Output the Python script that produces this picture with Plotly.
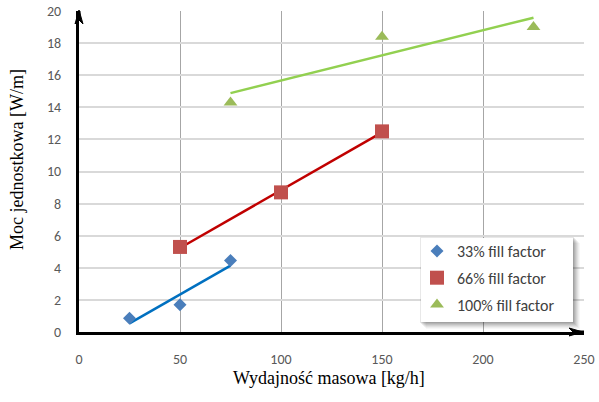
import numpy as np
import plotly.graph_objects as go

# Measured unit power vs. mass throughput for three fill factors
mass_flow_33 = [25, 50, 75]
power_33 = [0.85, 1.7, 4.45]

mass_flow_66 = [50, 100, 150]
power_66 = [5.3, 8.7, 12.5]

mass_flow_100 = [75, 150, 225]
power_100 = [14.3, 18.4, 19.0]

series_names = ["33% fill factor", "66% fill factor", "100% fill factor"]
x_ticks = [0, 50, 100, 150, 200, 250]
y_ticks = [0, 2, 4, 6, 8, 10, 12, 14, 16, 18, 20]
x_title = "Wydajność masowa [kg/h]"
y_title = "Moc jednostkowa [W/m]"

# Figure geometry (pixels)
W, H = 599, 402
ML, MR, MT, MB = 79, 15, 11, 70
PW, PH = W - ML - MR, H - MT - MB

marker_styles = [
    dict(symbol="diamond", color="#4a7ebb", size=10),
    dict(symbol="square", color="#c0504d", size=14),
    dict(symbol="triangle-up", color="#9bbb59", size=12),
]
trend_colors = ["#0070c0", "#c00000", "#92d050"]
datasets = [
    (mass_flow_33, power_33),
    (mass_flow_66, power_66),
    (mass_flow_100, power_100),
]

fig = go.Figure()

# Linear trend lines over each measured range
for (xs, ys), col in zip(datasets, trend_colors):
    k, b = np.polyfit(xs, ys, 1)
    xr = np.array([min(xs), max(xs)], dtype=float)
    fig.add_trace(go.Scatter(
        x=xr, y=k * xr + b, mode="lines",
        line=dict(color=col, width=2.5),
        showlegend=False, hoverinfo="skip",
    ))

# Measurement points
for i, ((xs, ys), ms, name) in enumerate(zip(datasets, marker_styles, series_names)):
    fig.add_trace(go.Scatter(
        x=xs, y=ys, mode="markers", name=name,
        legendgroup=f"g{i}",
        marker=dict(symbol=ms["symbol"], color=ms["color"], size=ms["size"],
                    line=dict(width=0)),
    ))

def px_to_paper_x(px):
    return (px - ML) / PW

def px_to_paper_y(py):
    return (H - MB - py) / PH

shapes = []

# Legend box with a soft drop shadow
box_l, box_t, box_r, box_b = 421, 238, 573, 322
for off, op in [(7, 0.03), (6, 0.04), (5, 0.05), (4, 0.06), (3, 0.07), (2, 0.08), (1, 0.09)]:
    shapes.append(dict(
        type="rect", xref="paper", yref="paper", layer="above",
        x0=px_to_paper_x(box_l + off - 2), x1=px_to_paper_x(box_r + off),
        y0=px_to_paper_y(box_b + off), y1=px_to_paper_y(box_t + off - 2),
        fillcolor=f"rgba(0,0,0,{op})", line=dict(width=0),
    ))
shapes.append(dict(
    type="rect", xref="paper", yref="paper", layer="above",
    x0=px_to_paper_x(box_l), x1=px_to_paper_x(box_r),
    y0=px_to_paper_y(box_b), y1=px_to_paper_y(box_t),
    fillcolor="white", line=dict(width=0),
))

# Axis extensions and arrow heads (the axis lines themselves come from showline)
x_tip, y_tip = 583, 10
shapes += [
    dict(type="line", xref="paper", yref="paper", layer="above",
         x0=1.0, x1=px_to_paper_x(x_tip - 8), y0=0, y1=0,
         line=dict(color="black", width=3)),
    dict(type="line", xref="paper", yref="paper", layer="above",
         x0=0, x1=0, y0=1.0, y1=px_to_paper_y(y_tip + 8),
         line=dict(color="black", width=3)),
    dict(type="path", xref="paper", yref="paper", layer="above",
         xsizemode="pixel", ysizemode="pixel",
         xanchor=px_to_paper_x(x_tip), yanchor=0,
         path="M 0 0 L -14 4 L -10 0 L -14 -4 Z",
         fillcolor="black", line=dict(color="black", width=1)),
    dict(type="path", xref="paper", yref="paper", layer="above",
         xsizemode="pixel", ysizemode="pixel",
         xanchor=0, yanchor=px_to_paper_y(y_tip),
         path="M 0 0 L 4 -14 L 0 -10 L -4 -14 Z",
         fillcolor="black", line=dict(color="black", width=1)),
]

title_font = dict(family="'Liberation Serif', 'Times New Roman', serif", size=18, color="black")
annotations = [
    dict(xref="paper", yref="paper", x=px_to_paper_x(329), y=px_to_paper_y(378),
         xanchor="center", yanchor="middle", showarrow=False,
         text=x_title, font=title_font),
    dict(xref="paper", yref="paper", x=px_to_paper_x(17), y=px_to_paper_y(160),
         xanchor="center", yanchor="middle", showarrow=False, textangle=-90,
         text=y_title, font=title_font),
]

tick_font = dict(family="Carlito, Lato, 'Open Sans', sans-serif", size=14, color="#595959")

fig.update_layout(
    width=W, height=H,
    margin=dict(l=ML, r=MR, t=MT, b=MB, autoexpand=False),
    paper_bgcolor="white", plot_bgcolor="white",
    shapes=shapes,
    annotations=annotations,
    legend=dict(
        x=px_to_paper_x(box_l - 4), y=px_to_paper_y(box_t - 4),
        xanchor="left", yanchor="top",
        bgcolor="rgba(0,0,0,0)", borderwidth=0,
        font=dict(family="Carlito, Lato, 'Open Sans', sans-serif", size=16, color="#404040"),
        traceorder="grouped", tracegroupgap=3,
    ),
    xaxis=dict(
        range=[0, 250], tickvals=x_ticks, ticktext=[str(v) for v in x_ticks],
        showgrid=True, gridcolor="#a6a6a6", gridwidth=1,
        zeroline=False, showline=True, linecolor="black", linewidth=3,
        ticks="", automargin=False, layer="above traces",
        tickfont=tick_font, ticklabelstandoff=12,
    ),
    yaxis=dict(
        range=[0, 20], tickvals=y_ticks, ticktext=[str(v) for v in y_ticks],
        showgrid=True, gridcolor="#d9d9d9", gridwidth=1.5,
        zeroline=False, showline=True, linecolor="black", linewidth=3,
        ticks="", automargin=False, layer="above traces",
        tickfont=tick_font, ticklabelstandoff=12,
    ),
)

fig.write_html("out.html")
